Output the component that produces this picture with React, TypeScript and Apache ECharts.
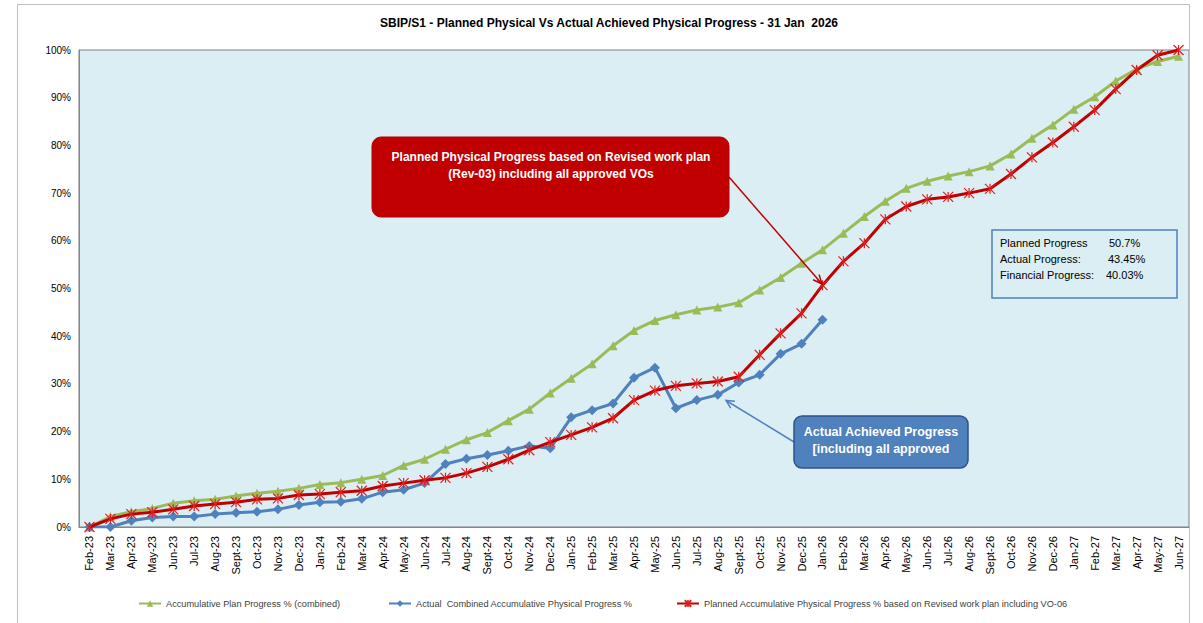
import React, { useEffect, useRef } from "react";
import * as echarts from "echarts";

const categories = [
  "Feb-23", "Mar-23", "Apr-23", "May-23", "Jun-23", "Jul-23", "Aug-23", "Sept-23", "Oct-23", "Nov-23", "Dec-23",
  "Jan-24", "Feb-24", "Mar-24", "Apr-24", "May-24", "Jun-24", "Jul-24", "Aug-24", "Sept-24", "Oct-24", "Nov-24", "Dec-24",
  "Jan-25", "Feb-25", "Mar-25", "Apr-25", "May-25", "Jun-25", "Jul-25", "Aug-25", "Sept-25", "Oct-25", "Nov-25", "Dec-25",
  "Jan-26", "Feb-26", "Mar-26", "Apr-26", "May-26", "Jun-26", "Jul-26", "Aug-26", "Sept-26", "Oct-26", "Nov-26", "Dec-26",
  "Jan-27", "Feb-27", "Mar-27", "Apr-27", "May-27", "Jun-27",
];

const planCombined = [
  0, 2.2, 3.2, 3.9, 5.0, 5.5, 5.8, 6.5, 7.1, 7.5, 8.1,
  8.9, 9.3, 10.0, 10.8, 12.9, 14.2, 16.3, 18.3, 19.8, 22.3, 24.7, 28.1,
  31.2, 34.2, 38.0, 41.2, 43.3, 44.5, 45.5, 46.1, 47.0, 49.7, 52.3, 55.3,
  58.1, 61.6, 65.1, 68.3, 71.0, 72.5, 73.6, 74.5, 75.7, 78.2, 81.5, 84.3,
  87.6, 90.2, 93.5, 96.0, 97.6, 98.7,
];

const actualCombined = [
  0, 0, 1.3, 2.0, 2.2, 2.2, 2.7, 3.0, 3.2, 3.7, 4.6,
  5.2, 5.3, 5.9, 7.3, 7.8, 9.2, 13.2, 14.3, 15.1, 16.0, 17.0, 16.5,
  23.0, 24.5, 25.9, 31.3, 33.4, 24.9, 26.6, 27.7, 30.3, 31.9, 36.3, 38.4,
  43.45,
];

const plannedRevised = [
  0, 1.7, 2.7, 3.1, 3.7, 4.4, 4.8, 5.2, 5.8, 6.0, 6.7,
  6.9, 7.3, 7.6, 8.6, 9.2, 9.8, 10.3, 11.3, 12.6, 14.2, 16.1, 17.8,
  19.3, 20.9, 22.8, 26.6, 28.6, 29.6, 30.1, 30.5, 31.5, 36.1, 40.6, 44.8,
  50.7, 55.7, 59.5, 64.5, 67.2, 68.7, 69.2, 70.0, 70.9, 74.0, 77.5, 80.6,
  83.9, 87.4, 91.8, 95.8, 98.9, 100,
];

const seriesNames = [
  "Accumulative Plan Progress % (combined)",
  "Actual  Combined Accumulative Physical Progress %",
  "Planned Accumulative Physical Progress % based on Revised work plan including VO-06",
];

const titleText = "SBIP/S1 - Planned Physical Vs Actual Achieved Physical Progress - 31 Jan  2026";
const redNote = ["Planned Physical Progress based on Revised work plan", "(Rev-03) including all approved VOs"];
const blueNote = ["Actual Achieved Progress", "[including all approved"];
const infoLabels = ["Planned Progress", "Actual Progress:", "Financial Progress:"];
const infoValues = ["50.7%", "43.45%", "40.03%"];

const NARROW = "'Liberation Sans Narrow', 'Liberation Sans', Arial, sans-serif";
const ARIAL = "'Liberation Sans', Arial, sans-serif";

export default function App() {
  const ref = useRef<HTMLDivElement>(null);
  useEffect(() => {
    if (!ref.current) return;
    const chart = echarts.init(ref.current, undefined, { renderer: "svg" });
    const star = "path://M0,0L10,10M10,0L0,10M5,0L5,10";
    const option: any = {
      animation: false,
      backgroundColor: "#ffffff",
      title: {
        text: titleText,
        left: 604,
        top: 12,
        textAlign: "center",
        textStyle: { fontFamily: ARIAL, fontSize: 12, fontWeight: "bold", color: "#000" },
      },
      grid: {
        left: 79,
        right: 14,
        top: 50,
        bottom: 96,
        show: true,
        backgroundColor: "#DAEEF3",
        borderColor: "#7F7F7F",
        borderWidth: 1,
        outerBoundsMode: "none",
      },
      legend: [0, 1, 2].map((i) => ({
        data: [seriesNames[i]],
        left: [138, 388, 676][i],
        top: 599,
        itemWidth: 22,
        itemHeight: 8,
        itemGap: 4,
        textStyle: { fontFamily: NARROW, fontSize: 9.2, color: "#404040" },
        padding: 0,
      })),
      xAxis: {
        type: "category",
        data: categories,
        boundaryGap: true,
        axisLine: { show: true, lineStyle: { color: "#868686", width: 1 } },
        axisTick: { show: false },
        axisLabel: {
          rotate: 90,
          interval: 0,
          margin: 9,
          fontFamily: NARROW,
          fontSize: 11,
          color: "#000",
        },
        splitLine: { show: false },
      },
      yAxis: {
        type: "value",
        min: 0,
        max: 100,
        interval: 10,
        axisLine: { show: true, lineStyle: { color: "#868686", width: 1 } },
        axisTick: { show: false },
        axisLabel: {
          formatter: "{value}%",
          margin: 8,
          fontFamily: NARROW,
          fontSize: 10,
          color: "#000",
        },
        splitLine: { show: false },
      },
      series: [
        {
          name: seriesNames[0],
          type: "line",
          data: planCombined,
          symbol: "triangle",
          symbolSize: 9,
          lineStyle: { color: "#9BBB59", width: 3 },
          itemStyle: { color: "#9BBB59" },
          z: 2,
        },
        {
          name: seriesNames[1],
          type: "line",
          data: actualCombined,
          symbol: "diamond",
          symbolSize: 10,
          lineStyle: { color: "#4F81BD", width: 3 },
          itemStyle: { color: "#4F81BD" },
          z: 3,
        },
        {
          name: seriesNames[2],
          type: "line",
          data: plannedRevised,
          symbol: star,
          symbolSize: 10,
          lineStyle: { color: "#C00000", width: 3 },
          itemStyle: { color: "#E02020", borderColor: "#E02020", borderWidth: 1.2 },
          z: 4,
        },
      ],
      graphic: [
        {
          type: "rect",
          shape: { x: 17.5, y: 4.5, width: 1172, height: 640 },
          style: { fill: "none", stroke: "#BFBFBF", lineWidth: 1 },
          silent: true,
          z: 0,
        },
        // red annotation
        {
          type: "rect",
          shape: { x: 372, y: 137, width: 357, height: 80, r: 9 },
          style: { fill: "#C00000", stroke: "#B00000", lineWidth: 1 },
          z: 10,
        },
        {
          type: "text",
          x: 551,
          y: 157,
          style: {
            text: redNote[0],
            fill: "#fff",
            font: `bold 12px ${ARIAL}`,
            align: "center",
            verticalAlign: "middle",
          },
          z: 11,
        },
        {
          type: "text",
          x: 551,
          y: 174,
          style: {
            text: redNote[1],
            fill: "#fff",
            font: `bold 12px ${ARIAL}`,
            align: "center",
            verticalAlign: "middle",
          },
          z: 11,
        },
        {
          type: "line",
          shape: { x1: 729, y1: 177, x2: 822, y2: 284 },
          style: { stroke: "#C00000", lineWidth: 1.5 },
          z: 10,
        },
        {
          type: "polyline",
          shape: { points: [[813.1, 279.8], [822, 284], [819.1, 274.6]] },
          style: { stroke: "#C00000", lineWidth: 1.5, fill: "none" },
          z: 10,
        },
        // blue annotation
        {
          type: "line",
          shape: { x1: 794, y1: 442, x2: 726, y2: 400.5 },
          style: { stroke: "#4F81BD", lineWidth: 1.5 },
          z: 10,
        },
        {
          type: "polyline",
          shape: { points: [[734.9, 401.3], [726, 400.5], [730.7, 408.1]] },
          style: { stroke: "#4F81BD", lineWidth: 1.5, fill: "none" },
          z: 10,
        },
        {
          type: "rect",
          shape: { x: 794, y: 416, width: 174, height: 52, r: 8 },
          style: { fill: "#4F81BD", stroke: "#2F528F", lineWidth: 1.5 },
          z: 10,
        },
        {
          type: "text",
          x: 881,
          y: 432,
          style: {
            text: blueNote[0],
            fill: "#fff",
            font: `bold 12.5px ${ARIAL}`,
            align: "center",
            verticalAlign: "middle",
          },
          z: 11,
        },
        {
          type: "text",
          x: 881,
          y: 449,
          style: {
            text: blueNote[1],
            fill: "#fff",
            font: `bold 12.5px ${ARIAL}`,
            align: "center",
            verticalAlign: "middle",
          },
          z: 11,
        },
        // info box
        {
          type: "rect",
          shape: { x: 992, y: 230, width: 185, height: 68 },
          style: { fill: "none", stroke: "#4F81BD", lineWidth: 1.5 },
          z: 10,
        },
        ...infoLabels.map((t, i) => ({
          type: "text",
          x: 1000,
          y: 243 + i * 16,
          style: { text: t, fill: "#000", font: `11px ${ARIAL}`, verticalAlign: "middle" },
          z: 11,
        })),
        ...infoValues.map((t, i) => ({
          type: "text",
          x: [1109, 1108, 1106][i],
          y: 243 + i * 16,
          style: { text: t, fill: "#000", font: `11px ${ARIAL}`, verticalAlign: "middle" },
          z: 11,
        })),
      ],
    };
    chart.setOption(option);
    return () => chart.dispose();
  }, []);
  return (
    <div
      ref={ref}
      style={{ position: "absolute", left: 0, top: 0, width: 1203, height: 623 }}
    />
  );
}
